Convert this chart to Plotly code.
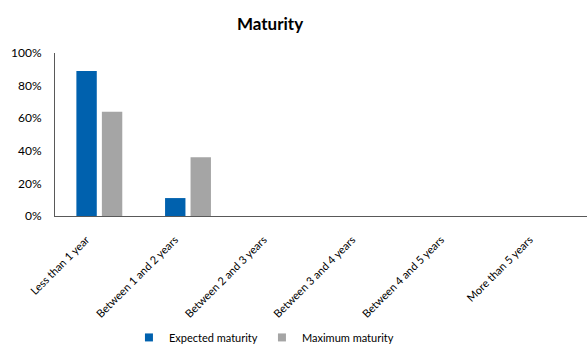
import plotly.graph_objects as go

categories = ["Less than 1 year", "Between 1 and 2 years", "Between 2 and 3 years",
              "Between 3 and 4 years", "Between 4 and 5 years", "More than 5 years"]
expected = [0.89, 0.11, 0, 0, 0, 0]
maximum = [0.64, 0.36, 0, 0, 0, 0]
y_ticks = [0, 0.2, 0.4, 0.6, 0.8, 1.0]
y_labels = ["0%", "20%", "40%", "60%", "80%", "100%"]

FONT = "Lato, Liberation Sans, sans-serif"
BLUE = "#0061AE"
GREY = "#A5A5A5"

fig = go.Figure()
fig.add_bar(x=categories, y=expected, name="Expected maturity", marker_color=BLUE,
            marker_line_width=0, showlegend=False)
fig.add_bar(x=categories, y=maximum, name="Maximum maturity", marker_color=GREY,
            marker_line_width=0, showlegend=False)
# legend entries with small square swatches
fig.add_scatter(x=[None], y=[None], mode="markers", name="Expected maturity",
                marker=dict(symbol="square", size=8, color=BLUE))
fig.add_scatter(x=[None], y=[None], mode="markers", name="Maximum maturity",
                marker=dict(symbol="square", size=8, color=GREY))

fig.update_layout(
    width=587, height=345,
    margin=dict(l=55, r=0, t=53, b=129, autoexpand=False),
    paper_bgcolor="white", plot_bgcolor="white",
    barmode="group", bargap=0.425, bargroupgap=0.2,
    font=dict(family=FONT, size=11, color="#000000"),
    title=dict(text="<b>Maturity</b>", x=0.46, xanchor="center", y=0.93, yanchor="middle",
               font=dict(family=FONT, size=17, color="#000000")),
    legend=dict(orientation="h", x=0.139, xanchor="left", y=-0.745, yanchor="middle",
                bgcolor="rgba(0,0,0,0)",
                font=dict(family=FONT, size=11), itemwidth=30, traceorder="normal",
                entrywidth=88, entrywidthmode="pixels"),
    xaxis=dict(showline=True, linecolor="#595959", linewidth=1, tickangle=-45,
               ticks="", showgrid=False, ticklabelstandoff=12, ticklabelshift=-13,
               automargin=False, tickfont=dict(family=FONT, size=11)),
    yaxis=dict(range=[0, 1.0], tickvals=y_ticks, ticktext=y_labels, showline=True,
               linecolor="#595959", linewidth=1, showgrid=False, ticks="",
               automargin=False,
               zeroline=False, ticklabelstandoff=10, tickfont=dict(family=FONT, size=12)),
)

fig.write_html("out.html")
